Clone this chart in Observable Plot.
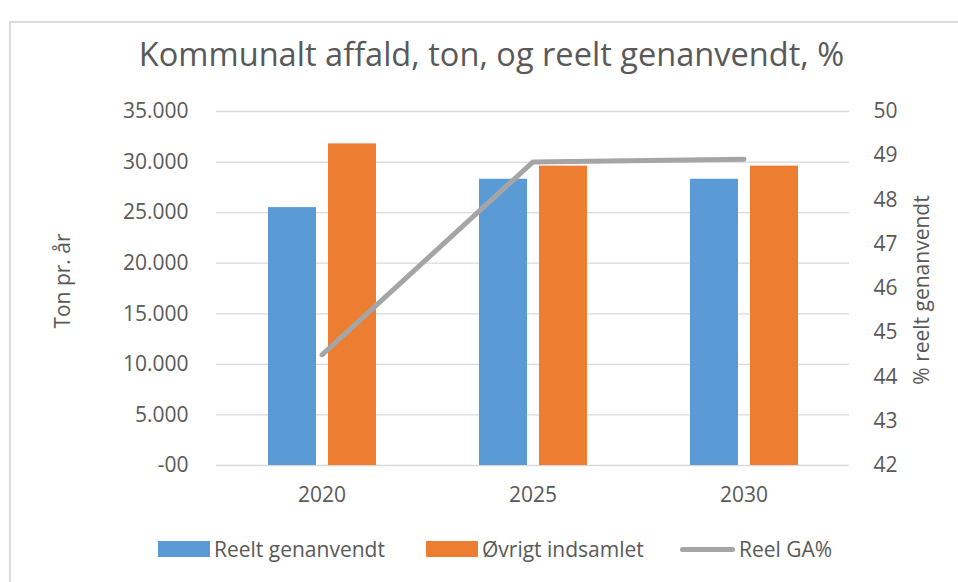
<!DOCTYPE html>
<html>
<head>
<meta charset="utf-8">
<script src="https://cdn.jsdelivr.net/npm/d3@7"></script>
<script src="https://cdn.jsdelivr.net/npm/@observablehq/plot@0.6"></script>
<style>
  html, body { margin: 0; padding: 0; background: #fff; }
  body { width: 958px; height: 582px; position: relative; overflow: hidden; font-family: "Open Sans", sans-serif; color: #595959; }
  #frame { position: absolute; left: 9px; top: 21px; width: 1000px; height: 700px; border-left: 2px solid #dcdcdc; border-top: 2px solid #dcdcdc; }
  #title { position: absolute; left: 0; top: 38px; width: 983px; text-align: center; font-size: 32.6px; line-height: 32.6px; font-weight: 400; color: #595959; white-space: nowrap; }
  #chart { position: absolute; left: 0; top: 90px; }
  .ylab { position: absolute; font-size: 21px; line-height: 21px; white-space: nowrap; color: #595959; transform: translate(-50%, -50%) rotate(-90deg); }
  .leg { position: absolute; top: 537px; height: 24px; display: flex; align-items: center; font-size: 21px; color: #595959; white-space: nowrap; }
  .sw { width: 52px; height: 16px; margin-right: 4px; }
  .ln { width: 55px; height: 5px; border-radius: 3px; background: #a5a5a5; margin-right: 4px; }
</style>
</head>
<body>
<div id="frame"></div>
<div id="title">Kommunalt affald, ton, og reelt genanvendt, %</div>
<div id="chart"></div>
<div class="ylab" style="left:62px; top:281px;">Ton pr. år</div>
<div class="ylab" style="left:921px; top:290px;">% reelt genanvendt</div>
<div class="leg" style="left:158px;"><div class="sw" style="background:#5b9bd5"></div>Reelt genanvendt</div>
<div class="leg" style="left:426px;"><div class="sw" style="background:#ed7d31"></div>Øvrigt indsamlet</div>
<div class="leg" style="left:680px;"><div class="ln"></div>Reel GA%</div>
<script>
const years = ["2020", "2025", "2030"];
const reeltGenanvendt = [25500, 28300, 28300];
const oevrigtIndsamlet = [31800, 29600, 29600];
const reelGA = [44.5, 48.86, 48.92];
const leftTicks = [0, 5000, 10000, 15000, 20000, 25000, 30000, 35000];
const rightTicks = [42, 43, 44, 45, 46, 47, 48, 49, 50];

const pctMin = 42, pctMax = 50, tonMax = 35000;
const pctToTon = p => (p - pctMin) / (pctMax - pctMin) * tonMax;
const tonToPct = t => pctMin + t / tonMax * (pctMax - pctMin);

const rows = years.map((y, i) => ({year: y, reelt: reeltGenanvendt[i], oevrigt: oevrigtIndsamlet[i], ga: reelGA[i]}));
const fmtTon = d => d === 0 ? "-00" : d3.format(",")(d).replace(/,/g, ".");

const chart = Plot.plot({
  width: 958,
  height: 430,
  marginLeft: 216,
  marginRight: 109,
  marginTop: 21,
  marginBottom: 55,
  style: {fontFamily: "Open Sans, sans-serif", fontSize: "21px", color: "#595959", background: "transparent"},
  x: {type: "band", domain: years, padding: 0, axis: null},
  y: {domain: [0, tonMax], nice: false, axis: null},
  marks: [
    Plot.gridY(leftTicks, {stroke: "#d9d9d9", strokeOpacity: 1, strokeWidth: 1.3}),
    Plot.barY(rows, {x: "year", y: "reelt", fill: "#5b9bd5", insetLeft: 52, insetRight: 111}),
    Plot.barY(rows, {x: "year", y: "oevrigt", fill: "#ed7d31", insetLeft: 112, insetRight: 51}),
    Plot.line(rows, {x: "year", y: d => pctToTon(d.ga), stroke: "#a5a5a5", strokeWidth: 5, strokeLinecap: "round", strokeLinejoin: "miter"}),
    Plot.axisY(leftTicks, {anchor: "left", tickSize: 0, tickPadding: 28, tickFormat: fmtTon, label: null, fill: "#595959"}),
    Plot.axisY(rightTicks.map(pctToTon), {anchor: "right", tickSize: 0, tickPadding: 24, tickFormat: t => String(Math.round(tonToPct(t))), label: null, fill: "#595959"}),
    Plot.axisX(years, {anchor: "bottom", tickSize: 0, tickPadding: 22, label: null, fill: "#595959"})
  ]
});
document.getElementById("chart").appendChild(chart);
</script>
</body>
</html>
